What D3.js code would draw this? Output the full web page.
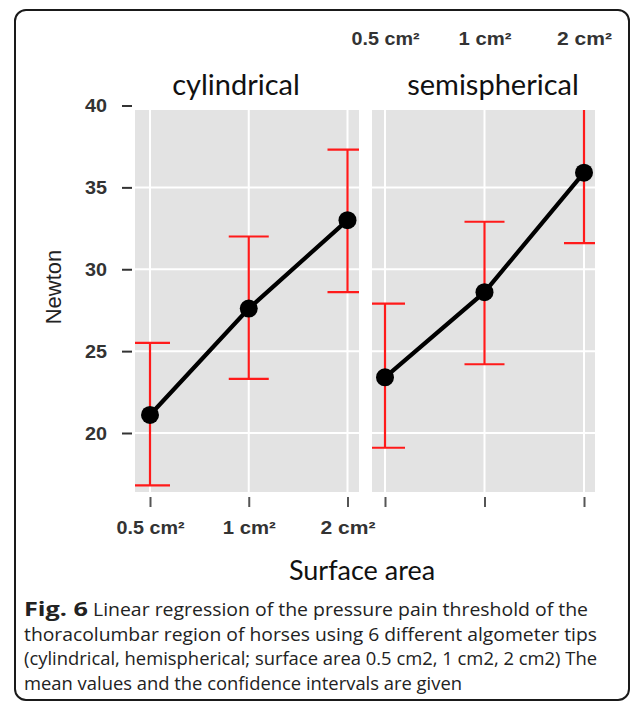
<!DOCTYPE html>
<html>
<head>
<meta charset="utf-8">
<script src="https://cdn.jsdelivr.net/npm/d3@7"></script>
<style>
  html, body { margin: 0; padding: 0; background: #fff; }
  svg { display: block; }
</style>
</head>
<body>
<svg id="chart" width="637" height="702"></svg>
<script>
// ---------- data ----------
const categories = ["0.5 cm\u00B2", "1 cm\u00B2", "2 cm\u00B2"];
const panelTitles = ["cylindrical", "semispherical"];
const cylMean  = [21.1, 27.6, 33.0];
const cylLower = [16.8, 23.3, 28.6];
const cylUpper = [25.5, 32.0, 37.3];
const semiMean  = [23.4, 28.6, 35.9];
const semiLower = [19.1, 24.2, 31.6];
const semiUpper = [27.9, 32.9, 40.2];
const yTicks = [20, 25, 30, 35, 40];
const yLabel = "Newton";
const xLabel = "Surface area";
const captionBold = "Fig. 6";
const captionLines = [
  "Linear regression of the pressure pain threshold of the",
  "thoracolumbar region of horses using 6 different algometer tips",
  "(cylindrical, hemispherical; surface area 0.5 cm2, 1 cm2, 2 cm2) The",
  "mean values and the confidence intervals are given"
];

// ---------- layout ----------
const svg = d3.select("#chart");
const panelTop = 110, panelBottom = 492;
const panelsLayout = [
  { x0: 135, x1: 359, p0: 150, p1: 347.5, titleX: 236 },
  { x0: 372, x1: 595, p0: 385, p1: 584, titleX: 493 }
];
const y = d3.scaleLinear().domain([20, 40]).range([433, 105.5]);
const tickFont = "Liberation Sans, Arial, sans-serif";
const labelWidths = [68, 53, 55];

// frame
svg.append("rect")
  .attr("x", 15).attr("y", 10).attr("width", 614).attr("height", 690)
  .attr("rx", 11).attr("fill", "none").attr("stroke", "#1a1a1a").attr("stroke-width", 2);

const series = [
  { mean: cylMean, lower: cylLower, upper: cylUpper },
  { mean: semiMean, lower: semiLower, upper: semiUpper }
];

const defs = svg.append("defs");

function styleTickText(sel) {
  sel.attr("font-family", tickFont).attr("font-size", 18)
    .attr("fill", "#333").attr("font-weight", "bold")
    .attr("textLength", (d, k) => labelWidths[k])
    .attr("lengthAdjust", "spacingAndGlyphs");
}

panelsLayout.forEach((P, i) => {
  const x = d3.scalePoint().domain(categories).range([P.p0, P.p1]);
  const clipId = "clip" + i;
  defs.append("clipPath").attr("id", clipId)
    .append("rect").attr("x", P.x0).attr("y", panelTop)
    .attr("width", P.x1 - P.x0).attr("height", panelBottom - panelTop);

  const g = svg.append("g");
  g.append("rect").attr("x", P.x0).attr("y", panelTop)
    .attr("width", P.x1 - P.x0).attr("height", panelBottom - panelTop)
    .attr("fill", "#e3e3e3");

  const inner = g.append("g").attr("clip-path", `url(#${clipId})`);
  inner.selectAll(".hg").data(yTicks).join("line")
    .attr("x1", P.x0).attr("x2", P.x1)
    .attr("y1", d => y(d)).attr("y2", d => y(d))
    .attr("stroke", "#fff").attr("stroke-width", 2);
  inner.selectAll(".vg").data(categories).join("line")
    .attr("x1", d => x(d)).attr("x2", d => x(d))
    .attr("y1", panelTop).attr("y2", panelBottom)
    .attr("stroke", "#fff").attr("stroke-width", 2);

  const s = series[i];
  const pts = categories.map((c, k) => ({ c, m: s.mean[k], lo: s.lower[k], hi: s.upper[k] }));

  const eb = inner.append("g").attr("stroke", "#ff1a1a").attr("stroke-width", 2.2).attr("fill", "none");
  eb.selectAll(".v").data(pts).join("line")
    .attr("x1", d => x(d.c)).attr("x2", d => x(d.c))
    .attr("y1", d => y(d.lo)).attr("y2", d => y(d.hi));
  eb.selectAll(".t").data(pts).join("line")
    .attr("x1", d => x(d.c) - 20).attr("x2", d => x(d.c) + 20)
    .attr("y1", d => y(d.hi)).attr("y2", d => y(d.hi));
  eb.selectAll(".b").data(pts).join("line")
    .attr("x1", d => x(d.c) - 20).attr("x2", d => x(d.c) + 20)
    .attr("y1", d => y(d.lo)).attr("y2", d => y(d.lo));

  inner.append("path").datum(pts)
    .attr("d", d3.line().x(d => x(d.c)).y(d => y(d.m)))
    .attr("fill", "none").attr("stroke", "#000").attr("stroke-width", 4.2)
    .attr("stroke-linecap", "round");
  inner.selectAll("circle").data(pts).join("circle")
    .attr("cx", d => x(d.c)).attr("cy", d => y(d.m)).attr("r", 9)
    .attr("fill", "#000");

  const xAxis = svg.append("g").attr("transform", `translate(0,497)`)
    .call(d3.axisBottom(x).tickSize(10).tickPadding(14));
  xAxis.select(".domain").remove();
  xAxis.selectAll(".tick line").attr("stroke", "#555").attr("stroke-width", 2);
  xAxis.selectAll("text").call(styleTickText);
  if (i === 1) {
    xAxis.selectAll("text").remove();
    const top = svg.append("g").attr("transform", `translate(0,45)`)
      .call(d3.axisTop(x).tickSize(0).tickPadding(0));
    top.select(".domain").remove();
    top.selectAll("text").call(styleTickText);
  }

  svg.append("text").attr("x", P.titleX).attr("y", 95)
    .attr("text-anchor", "middle")
    .attr("font-family", "Lato, 'Open Sans', sans-serif").attr("font-size", 29)
    .attr("fill", "#111").text(panelTitles[i]);
});

// y axis
const yAxis = svg.append("g").attr("transform", "translate(132,0)")
  .call(d3.axisLeft(y).tickValues(yTicks).tickSize(10).tickPadding(15));
yAxis.select(".domain").remove();
yAxis.selectAll(".tick line").attr("stroke", "#333").attr("stroke-width", 2);
yAxis.selectAll("text").attr("font-family", tickFont)
  .attr("font-size", 19).attr("fill", "#333").attr("font-weight", "bold")
  .attr("textLength", 22).attr("lengthAdjust", "spacingAndGlyphs");

// axis titles
svg.append("text").attr("transform", "translate(61,287) rotate(-90)")
  .attr("text-anchor", "middle")
  .attr("font-family", tickFont).attr("font-size", 22)
  .attr("fill", "#222").text(yLabel);
svg.append("text").attr("x", 362).attr("y", 580)
  .attr("text-anchor", "middle")
  .attr("font-family", "Lato, 'Open Sans', sans-serif").attr("font-size", 27)
  .attr("fill", "#111").text(xLabel);

// caption
const cap = svg.append("g").attr("font-family", "'Open Sans', sans-serif")
  .attr("font-size", 19).attr("fill", "#222");
const baselines = [616, 641, 665, 690];
const lineStarts = [93, 24, 24, 24];
const lineEnds = [588, 597, 597, 462];
cap.append("text").attr("x", 24).attr("y", baselines[0])
  .attr("font-weight", "bold").attr("textLength", 64)
  .attr("lengthAdjust", "spacingAndGlyphs").text(captionBold);
captionLines.forEach((ln, k) => {
  cap.append("text").attr("x", lineStarts[k]).attr("y", baselines[k])
    .attr("textLength", lineEnds[k] - lineStarts[k])
    .attr("lengthAdjust", "spacingAndGlyphs")
    .text(ln);
});
</script>
</body>
</html>
